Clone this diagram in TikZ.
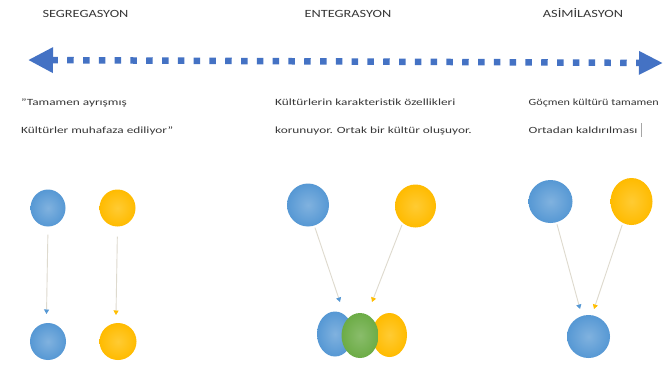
\documentclass[tikz,border=0pt]{standalone}
\usepackage{fontspec}
\setmainfont{Carlito}[FakeStretch=1.4]
\newfontfamily\titlefont{Carlito}[FakeStretch=1.3]
\newfontfamily\narrowbody{Carlito}[FakeStretch=1.28]
\usetikzlibrary{shapes.geometric,arrows.meta}
\definecolor{sblue}{RGB}{86,152,212}
\definecolor{syellow}{RGB}{255,190,0}
\definecolor{sgreen}{RGB}{108,172,70}
\definecolor{arrowblue}{RGB}{68,114,196}
\definecolor{linegray}{RGB}{222,218,206}
\definecolor{txt}{RGB}{55,55,55}
\begin{document}
\begin{tikzpicture}[x=1pt,y=-1pt,
  titletext/.style={anchor=base, font=\titlefont\fontsize{11}{13}\selectfont, text=txt, inner sep=0pt},
  bodytext/.style={anchor=base west, font=\fontsize{9.5}{11}\selectfont, text=txt, inner sep=0pt},
  orb/.style={ellipse, inner sep=0pt},
  borb/.style={orb, inner color=sblue!75!white, outer color=sblue},
  yorb/.style={orb, inner color=syellow!80!white, outer color=syellow!95!orange},
  gorb/.style={orb, inner color=sgreen!80!white, outer color=sgreen},
  conn/.style={draw=linegray, line width=0.9pt},
  btip/.style={-{Triangle[length=4.5pt,width=5pt,color=sblue]}},
  ytip/.style={-{Triangle[length=4.5pt,width=5pt,color=syellow]}},
  bigarrow/.style={draw=arrowblue, line width=6.5pt, dash pattern=on 6.5pt off 9.3pt,
    {Triangle[length=25pt,width=24pt]}-{Triangle[length=24pt,width=22pt]}}
]
\useasboundingbox[fill=white] (0,0) rectangle (669,370);

% titles
\node[titletext] (t1) at (85.5,17) {SEGREGASYON};
\node[titletext] (t2) at (348,17) {ENTEGRASYON};
\node[titletext] (t3) at (583,17) {ASİMİLASYON};

% main double arrow
\coordinate (al) at (28,60);
\coordinate (ar) at (663,63);
\draw[bigarrow] (al) -- (ar);

% texts
\node[bodytext] (l1) at (21,105.5) {"Tamamen ayrışmış};
\node[bodytext] (l2) at (21,133.5) {Kültürler muhafaza ediliyor"};
\node[bodytext] (m1) at (275,105.5) {Kültürlerin karakteristik özellikleri};
\node[bodytext] (m2) at (275,133.5) {korunuyor. Ortak bir kültür oluşuyor.};
\node[bodytext, font=\narrowbody\fontsize{9.5}{11}\selectfont] (r1) at (528.5,105.5) {Göçmen kültürü tamamen};
\node[bodytext] (r2) at (528.5,133.5) {Ortadan kaldırılması};
\draw[gray!70, line width=0.5pt] (641.5,123) -- (641.5,137);

% segregasyon
\node[borb, minimum width=35pt, minimum height=37pt] (sb1) at (48,208) {};
\node[yorb, minimum width=36pt, minimum height=37pt] (sy1) at (117.5,208) {};
\node[borb, minimum width=36pt, minimum height=37pt] (sb2) at (48,341.5) {};
\node[yorb, minimum width=37pt, minimum height=37pt] (sy2) at (118,341.5) {};
\coordinate (st1) at (46.5,314);
\coordinate (st2) at (116,315);
\draw[conn, btip, shorten <=8pt] (sb1.south) -- (st1);
\draw[conn, ytip, shorten <=10pt] (sy1.south) -- (st2);

% entegrasyon
\node[borb, minimum width=42pt, minimum height=43pt] (eb1) at (308,205) {};
\node[yorb, minimum width=41pt, minimum height=43pt] (ey1) at (415.5,206) {};
\node[borb, minimum width=36pt, minimum height=45pt] (eb2) at (335,334) {};
\node[yorb, minimum width=35pt, minimum height=44pt] (ey2) at (389.5,335) {};
\node[gorb, minimum width=37pt, minimum height=45pt] (eg2) at (360,335.5) {};
\coordinate (et1) at (340,302);
\coordinate (et2) at (372,302);
\draw[conn, btip, shorten <=2pt] (eb1.-73) -- (et1);
\draw[conn, ytip, shorten <=2pt] (ey1.-127) -- (et2);

% asimilasyon
\node[borb, minimum width=44pt, minimum height=43pt] (ab1) at (550.5,201.5) {};
\node[yorb, minimum width=42pt, minimum height=47pt] (ay1) at (631.5,201.5) {};
\node[borb, minimum width=43pt, minimum height=43pt] (ab2) at (588.5,336.5) {};
\coordinate (at1) at (580,309);
\coordinate (at2) at (594,309);
\draw[conn, btip, shorten <=2pt] (ab1.-74) -- (at1);
\draw[conn, ytip, shorten <=2pt] (ay1.-112) -- (at2);
\end{tikzpicture}
\end{document}
